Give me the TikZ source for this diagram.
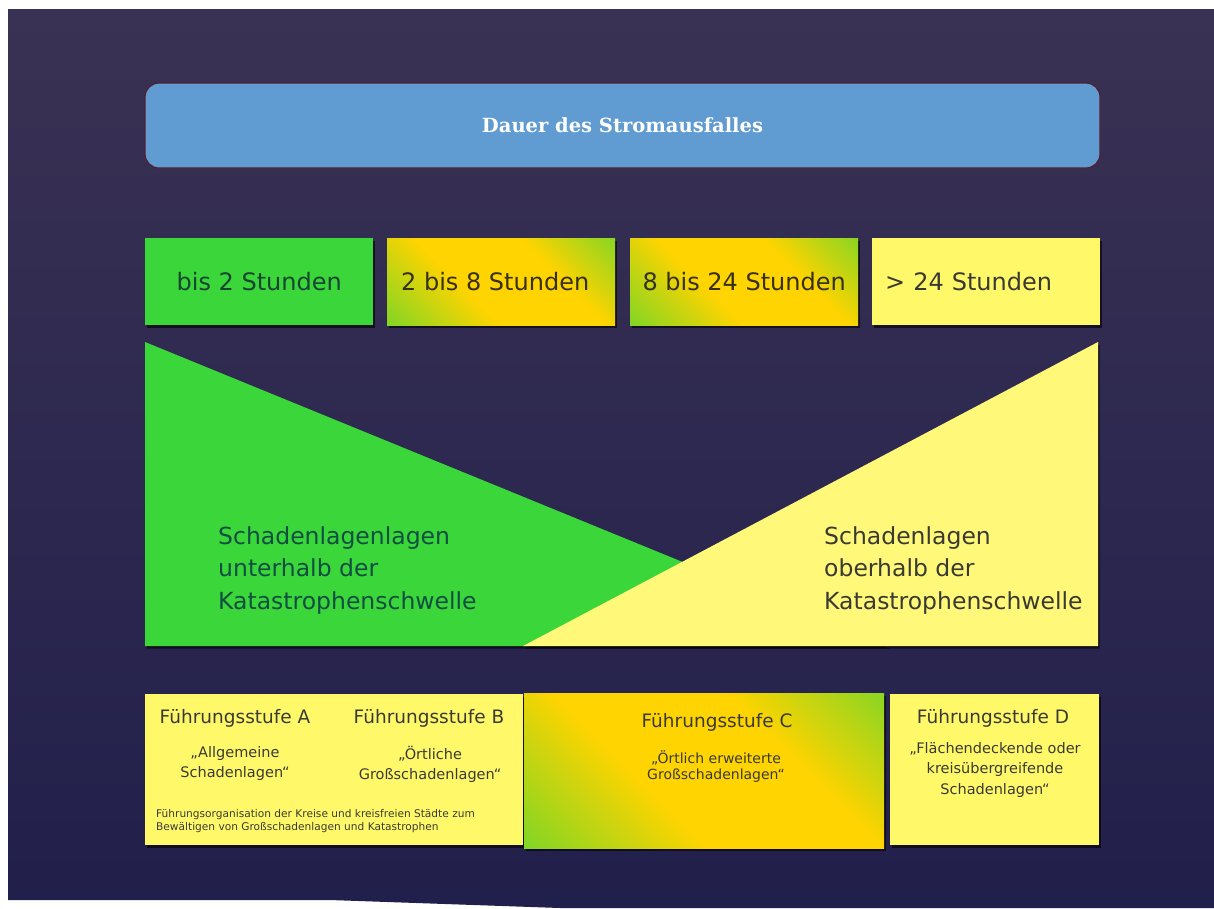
\documentclass[tikz,border=0pt]{standalone}
\usepackage{fontspec}
\setmainfont{DejaVu Sans}
\newfontfamily\titlefont{DejaVu Serif}
\usetikzlibrary{shadows}

\definecolor{bgtop}{RGB}{58,50,84}
\definecolor{bgbot}{RGB}{33,31,75}
\definecolor{titleblue}{RGB}{96,156,210}
\definecolor{grn}{RGB}{58,214,58}
\definecolor{gold}{RGB}{255,212,0}
\definecolor{lyel}{RGB}{255,249,105}
\definecolor{tyel}{RGB}{255,248,120}
\definecolor{tealink}{RGB}{16,78,66}
\definecolor{greenink}{RGB}{22,70,50}
\definecolor{brownink}{RGB}{55,48,20}
\definecolor{grayink}{RGB}{58,58,52}

% green -> gold -> gold -> green, used diagonally on the mixed boxes
\pgfdeclareverticalshading{greengold}{100bp}{color(0bp)=(grn); color(40bp)=(gold); color(64bp)=(gold); color(100bp)=(grn)}

\newcommand\fsbig{\fontsize{24}{32}\selectfont}
\newcommand\fstri{\fontsize{23.5}{32.5}\selectfont}
\newcommand\fshead{\fontsize{18.5}{22}\selectfont}
\newcommand\fssub{\fontsize{14.5}{20.5}\selectfont}
\newcommand\fsfoot{\fontsize{10.6}{13.5}\selectfont}

\tikzset{
  shade box/.style={drop shadow={shadow xshift=1.5pt, shadow yshift=-2.5pt, opacity=0.6, fill=black}},
  durbox/.style={shade box, anchor=north west, minimum width=228pt, minimum height=87pt,
                 inner sep=0pt, font=\fsbig},
  mixed/.style={shading=greengold, shading angle=-45},
  levelbox/.style={shade box, anchor=north west, inner sep=0pt},
  head/.style={anchor=base, inner sep=0pt, font=\fshead, text=grayink},
  sub/.style={anchor=north, inner sep=0pt, font=\fssub, text=grayink, align=center},
}

\begin{document}
\begin{tikzpicture}[x=1pt, y=-1pt]
\useasboundingbox (0,0) rectangle (1214,908);

% slide background
\fill[white] (0,0) rectangle (1214,908);
\shade[top color=bgtop, bottom color=bgbot]
  (8,9) -- (1214,9) -- (1214,908) -- (560,908) -- (330,900) -- (8,900) -- cycle;

% heading bar
\node[fill=titleblue, rounded corners=14pt, minimum width=955pt, minimum height=85pt,
      inner sep=0pt, draw=black!55!red!40!bgtop, line width=1.2pt] (title) at (622.5,125.5)
      {\titlefont\bfseries\fontsize{19.5}{22}\selectfont\color{white}Dauer des Stromausfalles};

% duration classes
\node[durbox, fill=grn, text=greenink] (d1) at (145,238) {bis 2 Stunden};
\node[durbox, mixed, text=brownink] (d2) at (387,238) {\hspace*{-12pt}2 bis 8 Stunden};
\node[durbox, mixed, text=brownink] (d3) at (630,238) {8 bis 24 Stunden};
\node[durbox, fill=lyel, text=grayink, text width=202pt, inner xsep=13pt, align=left] (d4) at (872,238) {> 24 Stunden};

% damage situations below / above the disaster threshold
\fill[grn, shade box] (145,342) -- (145,646) -- (888,646) -- cycle;
\fill[tyel, shade box] (1098,342) -- (1098,646) -- (523,646) -- cycle;
\node[anchor=north west, inner sep=0pt, align=left, font=\fstri, text=tealink] (below) at (218,526)
  {Schadenlagenlagen\\unterhalb der\\Katastrophenschwelle};
\node[anchor=north west, inner sep=0pt, align=left, font=\fstri, text=grayink] (above) at (824,526)
  {Schadenlagen\\oberhalb der\\Katastrophenschwelle};

% command levels
\node[levelbox, fill=lyel, minimum width=378pt, minimum height=151pt] (lab) at (145,694) {};
\node[levelbox, mixed, minimum width=360pt, minimum height=155pt] (lc) at (524,693) {};
\node[levelbox, fill=lyel, minimum width=209pt, minimum height=151pt] (ld) at (890,694) {};

\node[head] (ha) at (235,723) {Führungsstufe A};
\node[head] (hb) at (429,723) {Führungsstufe B};
\node[head] (hc) at (717,727) {Führungsstufe C};
\node[head] (hd) at (993,723) {Führungsstufe D};

\node[sub] (sa) at (235,746) {„Allgemeine\\Schadenlagen“};
\node[sub] (sb) at (430,746) {„Örtliche\\Großschadenlagen“};
\node[sub, font=\fontsize{14}{16}\selectfont] (sc) at (716,751) {„Örtlich erweiterte\\Großschadenlagen“};
\node[sub] (sd) at (995,742) {„Flächendeckende oder\\kreisübergreifende\\Schadenlagen“};

\node[anchor=north west, inner sep=0pt, align=left, font=\fsfoot, text=grayink] (foot) at (156,809)
  {Führungsorganisation der Kreise und kreisfreien Städte zum\\Bewältigen von Großschadenlagen und Katastrophen};
\end{tikzpicture}
\end{document}
